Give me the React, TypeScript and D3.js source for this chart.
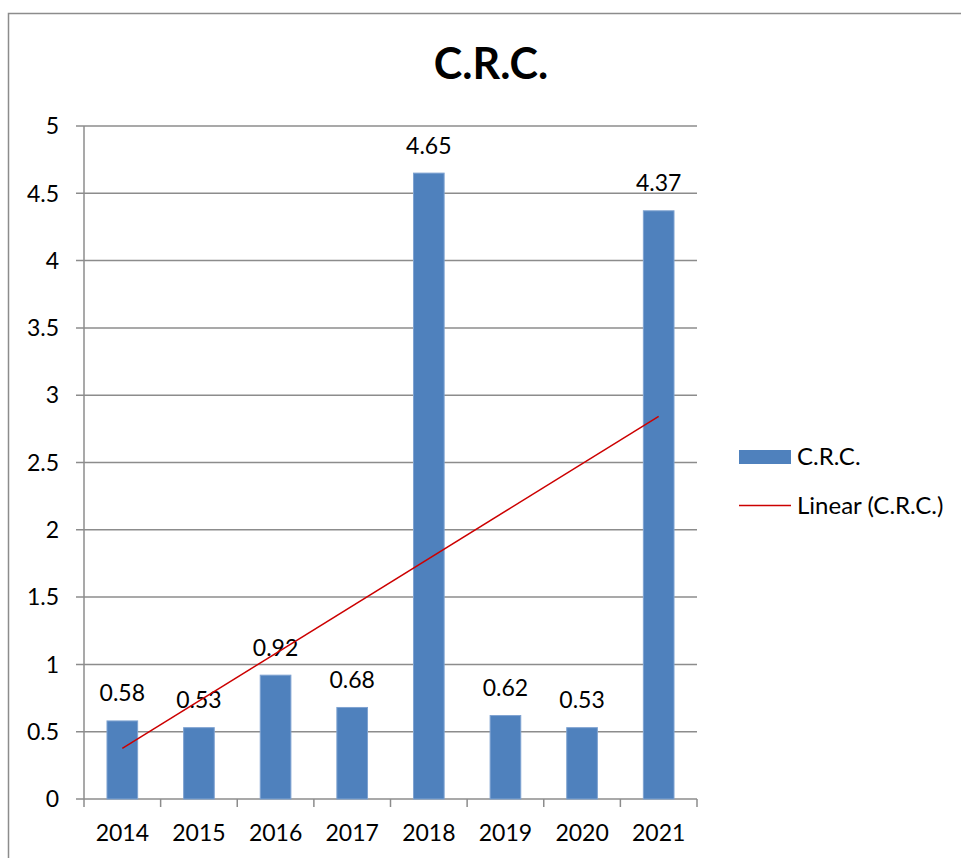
import React from "react";
import * as d3 from "d3";

const categories = ["2014", "2015", "2016", "2017", "2018", "2019", "2020", "2021"];
const values = [0.58, 0.53, 0.92, 0.68, 4.65, 0.62, 0.53, 4.37];
const yTicks = [0, 0.5, 1, 1.5, 2, 2.5, 3, 3.5, 4, 4.5, 5];
const yTickLabels = ["0", "0.5", "1", "1.5", "2", "2.5", "3", "3.5", "4", "4.5", "5"];
const seriesName = "C.R.C.";
const trendName = "Linear (C.R.C.)";

const W = 961;
const H = 858;
const left = 84;
const right = 697;
const top = 126;
const bottom = 799;
const FONT = "Lato, 'Open Sans', 'DejaVu Sans', sans-serif";

export default function App() {
  const x = d3.scaleBand<string>().domain(categories).range([left, right]).paddingInner(0.6).paddingOuter(0.3);
  const xBand = d3.scaleBand<string>().domain(categories).range([left, right]);
  const y = d3.scaleLinear().domain([0, 5]).range([bottom, top]);

  // linear regression trendline
  const n = values.length;
  const xs = values.map((_, i) => i + 1);
  const mx = d3.mean(xs) as number;
  const my = d3.mean(values) as number;
  const sxy = d3.sum(xs.map((xv, i) => (xv - mx) * (values[i] - my)));
  const sxx = d3.sum(xs.map((xv) => (xv - mx) ** 2));
  const slope = sxy / sxx;
  const intercept = my - slope * mx;
  const trendPts: [number, number][] = xs.map((xv, i) => [
    (xBand(categories[i]) as number) + xBand.bandwidth() / 2,
    y(intercept + slope * xv),
  ]);
  const trendLine = d3.line()([trendPts[0], trendPts[n - 1]]) as string;

  const boundaries = [...categories.map((c) => xBand(c) as number), right];

  return (
    <svg width={W} height={H} style={{ position: "absolute", left: 0, top: 0, background: "#fff" }} fontFamily={FONT}>
      <rect x={8.5} y={13.5} width={W + 20} height={H + 20} fill="#fff" stroke="#8c8c8c" strokeWidth={1.5} />
      <text x={491} y={79} textAnchor="middle" fontSize={43} fontWeight="bold" fill="#000">
        {seriesName}
      </text>
      {/* gridlines */}
      {yTicks.map((t, i) => (
        <g key={i}>
          <line x1={76} x2={right} y1={y(t)} y2={y(t)} stroke="#8c8c8c" strokeWidth={1.5} />
          <text x={59} y={y(t)} dy="0.36em" textAnchor="end" fontSize={23} fill="#000">
            {yTickLabels[i]}
          </text>
        </g>
      ))}
      <line x1={left} x2={left} y1={top} y2={bottom} stroke="#8c8c8c" strokeWidth={1.5} />
      {boundaries.map((bx, i) => (
        <line key={i} x1={bx} x2={bx} y1={bottom} y2={807} stroke="#8c8c8c" strokeWidth={1.5} />
      ))}
      {/* bars */}
      {categories.map((c, i) => (
        <g key={c}>
          <rect
            x={x(c) as number}
            y={y(values[i])}
            width={x.bandwidth()}
            height={bottom - y(values[i])}
            fill="#4F81BD"
            stroke="#7fa3d1"
            strokeWidth={1}
          />
          <text
            x={(xBand(c) as number) + xBand.bandwidth() / 2}
            y={y(values[i]) - 19.5}
            textAnchor="middle"
            fontSize={23}
            fill="#000"
          >
            {values[i].toFixed(2)}
          </text>
          <text
            x={(xBand(c) as number) + xBand.bandwidth() / 2}
            y={841}
            textAnchor="middle"
            fontSize={23}
            fill="#000"
          >
            {c}
          </text>
        </g>
      ))}
      <path d={trendLine} stroke="#CC0000" strokeWidth={1.5} fill="none" />
      {/* legend */}
      <rect x={739} y={450} width={52} height={14} fill="#4F81BD" />
      <text x={797} y={465} fontSize={24} fill="#000">
        {seriesName}
      </text>
      <line x1={739} x2={791} y1={505.5} y2={505.5} stroke="#CC0000" strokeWidth={1.5} />
      <text x={797} y={514} fontSize={24} fill="#000">
        {trendName}
      </text>
    </svg>
  );
}
